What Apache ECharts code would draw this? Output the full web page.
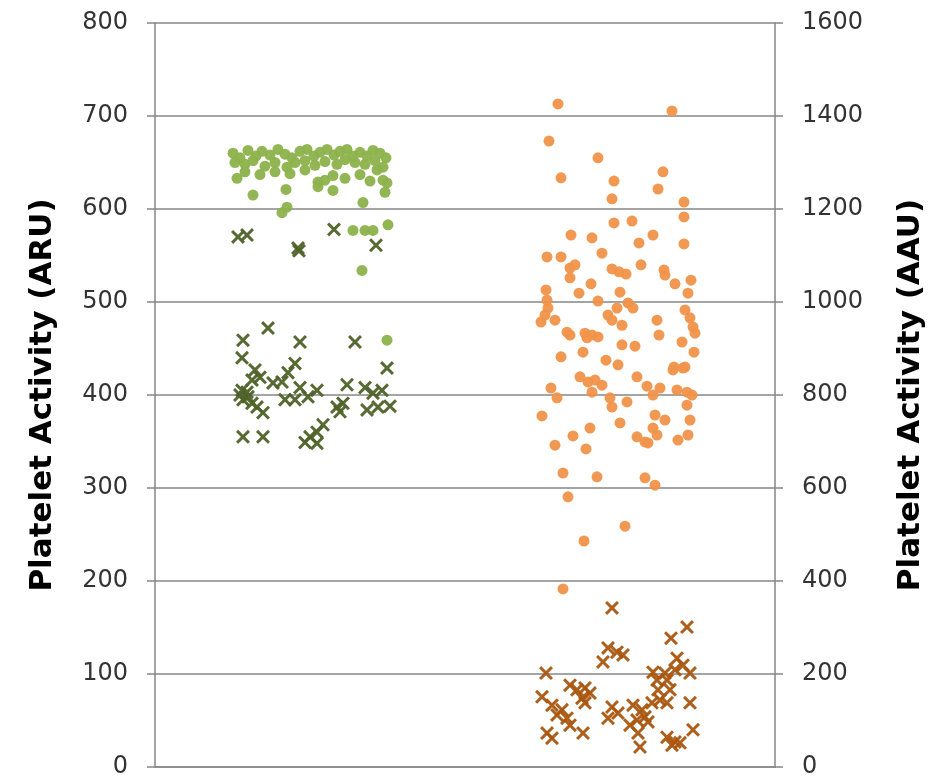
<!DOCTYPE html>
<html><head><meta charset="utf-8">
<script src="https://cdn.jsdelivr.net/npm/echarts@6/dist/echarts.min.js"></script>
<style>html,body{margin:0;padding:0;background:#fff}#c{width:942px;height:780px}</style>
</head><body><div id="c"></div>
<script>
// Jitter position (0-620, hidden axis) and value
const aruDots = [
[78,660],[85,655],[93,663],[101,657],[107,662],[115,658],[123,664],[130,659],[137,655],[145,662],[152,664],[159,657],[165,661],[172,664],[179,658],[185,662],[192,664],[198,657],[205,661],[212,657],[218,663],[225,660],[231,655],
[80,650],[90,648],[98,652],[110,646],[120,650],[132,645],[140,650],[150,652],[160,647],[170,651],[182,648],[190,653],[200,650],[210,648],[220,652],[228,645],
[82,633],[90,640],[105,637],[120,640],[135,638],[150,642],[163,629],[178,636],[190,633],[205,637],[215,630],[222,642],[232,628],
[98,615],[131,621],[132,602],[127,596],[163,624],[170,631],[178,620],[208,607],[230,618],[228,631],[198,577],[210,577],[218,577],[233,583],[207,534],[232,459]
];
const aruCrosses = [
[83,570],[92,572],[143,558],[144,555],[179,578],[221,561],
[113,472],[88,459],[145,457],[200,457],[87,440],[232,429],[100,427],[140,434],[133,424],[127,414],[118,413],[97,416],[105,419],[87,405],[93,398],[88,395],[97,391],[102,387],[108,381],[145,408],[153,398],[162,405],[140,395],[130,395],[192,411],[188,391],[182,387],[185,382],[210,408],[218,402],[227,405],[212,384],[223,387],[168,368],[162,360],[155,355],[150,349],[162,348],[88,355],[108,355],[85,400],[92,403],[235,388]
];
const aauDots = [
[403,1426],[517,1411],[394,1346],[443,1310],[508,1280],[406,1267],[459,1260],[503,1243],[457,1222],[529,1215],[529,1183],[459,1170],[477,1174],
[416,1144],[437,1138],[498,1144],[484,1127],[529,1125],[392,1097],[406,1097],[447,1105],[415,1073],[420,1080],[415,1052],[457,1071],[464,1065],[471,1060],[486,1080],[509,1069],[510,1058],[520,1039],[536,1047],[533,1019],[391,1026],[436,1039],[424,1019],[465,1021],[392,1004],[393,987],[390,972],[386,957],[400,961],[443,1002],[462,987],[473,998],[478,987],[453,972],[457,961],[467,950],[530,983],[535,966],[538,946],[540,933],[502,961],[504,929],[412,935],[415,929],[430,933],[437,929],[443,925],[432,923],[467,908],[480,905],[527,914],[428,892],[406,882],[451,875],[463,865],[539,892],[519,860],[530,860],
[518,854],[528,858],[425,839],[433,828],[440,832],[447,821],[437,806],[482,839],[492,819],[505,815],[498,800],[396,815],[402,794],[455,794],[457,774],[472,785],[522,811],[532,806],[537,800],[532,778],[535,746],[533,714],[523,703],[500,757],[510,746],[498,729],[502,714],[482,710],[490,699],[493,697],[465,740],[435,729],[418,712],[387,755],[400,692],[431,684],[408,632],[442,624],[490,622],[500,606],[413,581],
[470,518],[429,486],[408,383]
];
const aauCrosses = [
[457,342],[532,301],[516,277],[453,256],[462,247],[468,241],[448,226],[391,202],[522,234],[528,219],[520,209],[510,202],[535,202],[498,204],[502,187],[512,187],[415,176],[422,166],[430,170],[435,159],[427,148],[430,138],[503,166],[515,166],[387,151],[397,133],[407,123],[402,112],[412,105],[415,90],[392,73],[397,62],[428,73],[535,138],[538,80],[457,129],[463,116],[453,105],[478,133],[487,123],[482,101],[475,90],[490,108],[497,138],[505,144],[512,138],[483,73],[485,43],[512,64],[520,54],[525,52],[517,47],[493,97]
];
const leftTicks = {min:0,max:800,interval:100};
const rightTicks = {min:0,max:1600,interval:200};
const leftTitle = 'Platelet Activity (ARU)';
const rightTitle = 'Platelet Activity (AAU)';

const X = 'path://M3,0 L10,7 L17,0 L20,3 L13,10 L20,17 L17,20 L10,13 L3,20 L0,17 L7,10 L0,3 Z';
const axisGray = '#868686';
const labelStyle = {fontFamily:'DejaVu Sans, sans-serif', fontSize:24, color:'#333333', formatter:v=>String(v)};
const nameStyle = {fontFamily:'DejaVu Sans, sans-serif', fontSize:31, fontWeight:'bold', color:'#000'};
const chart = echarts.init(document.getElementById('c'));
chart.setOption({
  animation:false,
  backgroundColor:'#fff',
  grid:{left:155,right:167,top:23,bottom:13,containLabel:false},
  xAxis:{type:'value',min:0,max:620,axisLabel:{show:false},axisTick:{show:false},splitLine:{show:false},
    axisLine:{show:true,onZero:false,lineStyle:{color:axisGray,width:1.5}}},
  yAxis:[
    {type:'value',position:'left',min:leftTicks.min,max:leftTicks.max,interval:leftTicks.interval,
     name:leftTitle,nameLocation:'middle',nameGap:97,nameTextStyle:nameStyle,
     axisLine:{show:true,lineStyle:{color:axisGray,width:1.5}},
     axisTick:{show:true,length:8,lineStyle:{color:axisGray,width:1.5}},
     axisLabel:Object.assign({margin:27},labelStyle),
     splitLine:{show:true,lineStyle:{color:axisGray,width:1.5}}},
    {type:'value',position:'right',min:rightTicks.min,max:rightTicks.max,interval:rightTicks.interval,
     name:rightTitle,nameLocation:'middle',nameGap:120,nameTextStyle:nameStyle,
     axisLine:{show:true,lineStyle:{color:axisGray,width:1.5}},
     axisTick:{show:true,length:8,lineStyle:{color:axisGray,width:1.5}},
     axisLabel:Object.assign({margin:27},labelStyle),
     splitLine:{show:false}}
  ],
  series:[
    {type:'scatter',yAxisIndex:0,data:aruDots,symbol:'circle',symbolSize:11,itemStyle:{color:'#8db24c',opacity:0.95}},
    {type:'scatter',yAxisIndex:0,data:aruCrosses,symbol:X,symbolSize:14,itemStyle:{color:'#4f6228',opacity:0.95}},
    {type:'scatter',yAxisIndex:1,data:aauDots,symbol:'circle',symbolSize:11,itemStyle:{color:'#f0944a',opacity:0.95}},
    {type:'scatter',yAxisIndex:1,data:aauCrosses,symbol:X,symbolSize:14,itemStyle:{color:'#a9560f',opacity:0.95}}
  ]
});
</script></body></html>
